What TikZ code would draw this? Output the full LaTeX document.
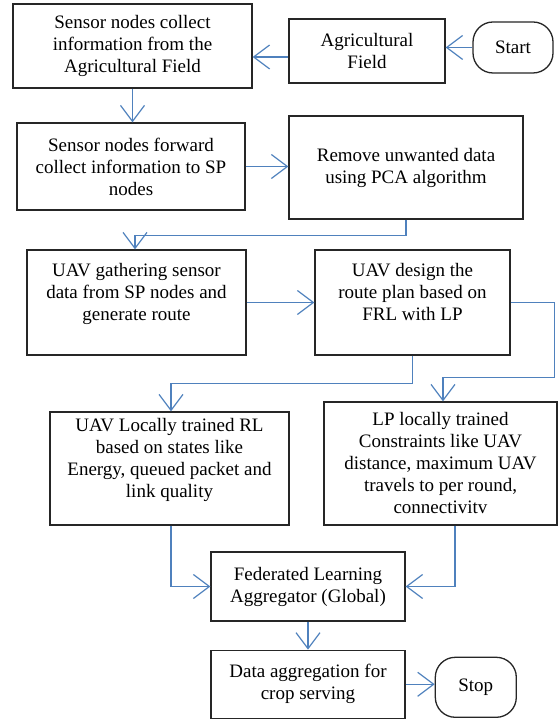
\documentclass[tikz,border=0pt]{standalone}
\usepackage{fontspec}
\setmainfont{Liberation Serif}
\usepackage{xcolor}
\usetikzlibrary{arrows.meta,positioning}
\definecolor{flowblue}{RGB}{79,129,189}

\begin{document}
\begin{tikzpicture}[
    x=1pt, y=1pt,
    node distance=28pt and 29pt,
    box/.style={draw=black!85, line width=1.3pt, fill=white, align=center,
                inner sep=2pt, font=\fontsize{19}{22}\selectfont},
    term/.style={box, rounded corners=20pt},
    arr/.style={-{Straight Barb[length=16pt,width=24pt,line width=1.2pt]}, draw=flowblue, line width=1.2pt}
]
\useasboundingbox (0,0) rectangle (558,719);

\node[box, minimum width=239pt, minimum height=84pt] (sense) at (132.5,673) {Sensor nodes collect\\information from the\\Agricultural Field};
\node[box, minimum width=156pt, minimum height=64pt] (field) at (367,668) {Agricultural\\Field};
\node[term, minimum width=80pt, minimum height=51pt] (start) at (513,671.5) {Start};
\node[box, minimum width=228pt, minimum height=87pt] (fwd) at (131,552.5) {Sensor nodes forward\\collect information to SP\\nodes};
\node[box, minimum width=234pt, minimum height=103pt] (pca) at (406,551.5) {Remove unwanted data\\using PCA algorithm};
\node[box, minimum width=219pt, minimum height=105pt] (gather) at (136.5,416.5) {UAV gathering sensor\\data from SP nodes and\\generate route\\ \mbox{}};
\node[box, minimum width=195pt, minimum height=105pt] (design) at (412.5,416.5) {UAV design the\\route plan based on\\FRL with LP\\ \mbox{}};
\node[box, minimum width=239pt, minimum height=113pt] (rl) at (169.5,250.5) {UAV Locally trained RL\\based on states like\\Energy, queued packet and\\link quality\\ \mbox{}};
\node[box, minimum width=233pt, minimum height=123pt] (lp) at (440.5,255.5) {LP locally trained\\Constraints like UAV\\distance, maximum UAV\\travels to per round,\\connectivitv};
\node[box, minimum width=194pt, minimum height=69pt] (fla) at (308,132.5) {Federated Learning\\Aggregator (Global)};
\node[box, minimum width=194pt, minimum height=68pt, below=of fla] (agg) {Data aggregation for\\crop serving};
\node[term, minimum width=81pt, minimum height=60pt, right=of agg, yshift=-3pt] (stop) {Stop};

\draw[arr] (start.west) -- (start.west -| field.east);
\draw[arr] ([yshift=-6pt]field.west) -- ([yshift=-6pt]field.west -| sense.east);
\draw[arr] (sense.south) -- (sense.south |- fwd.north);
\draw[arr] (fwd.east) -- (fwd.east -| pca.west);
\draw[arr] (pca.south) -- ++(0,-16pt) -| ([xshift=-1.5pt]gather.north);
\draw[arr] (gather.east) -- (design.west);
\draw[arr] (design.south) -- ++(0,-28pt) -| ([xshift=1.5pt]rl.north);
\draw[arr] (design.east) -- ++(44pt,0) -- ++(0,-75pt) -| ([xshift=2.5pt]lp.north);
\draw[arr] ([xshift=1.5pt]rl.south) |- (fla.west);
\draw[arr] ([xshift=14.5pt]lp.south) |- (fla.east);
\draw[arr] (fla.south) -- (agg.north);
\draw[arr] (agg.east) -- (agg.east -| stop.west);
\end{tikzpicture}
\end{document}
